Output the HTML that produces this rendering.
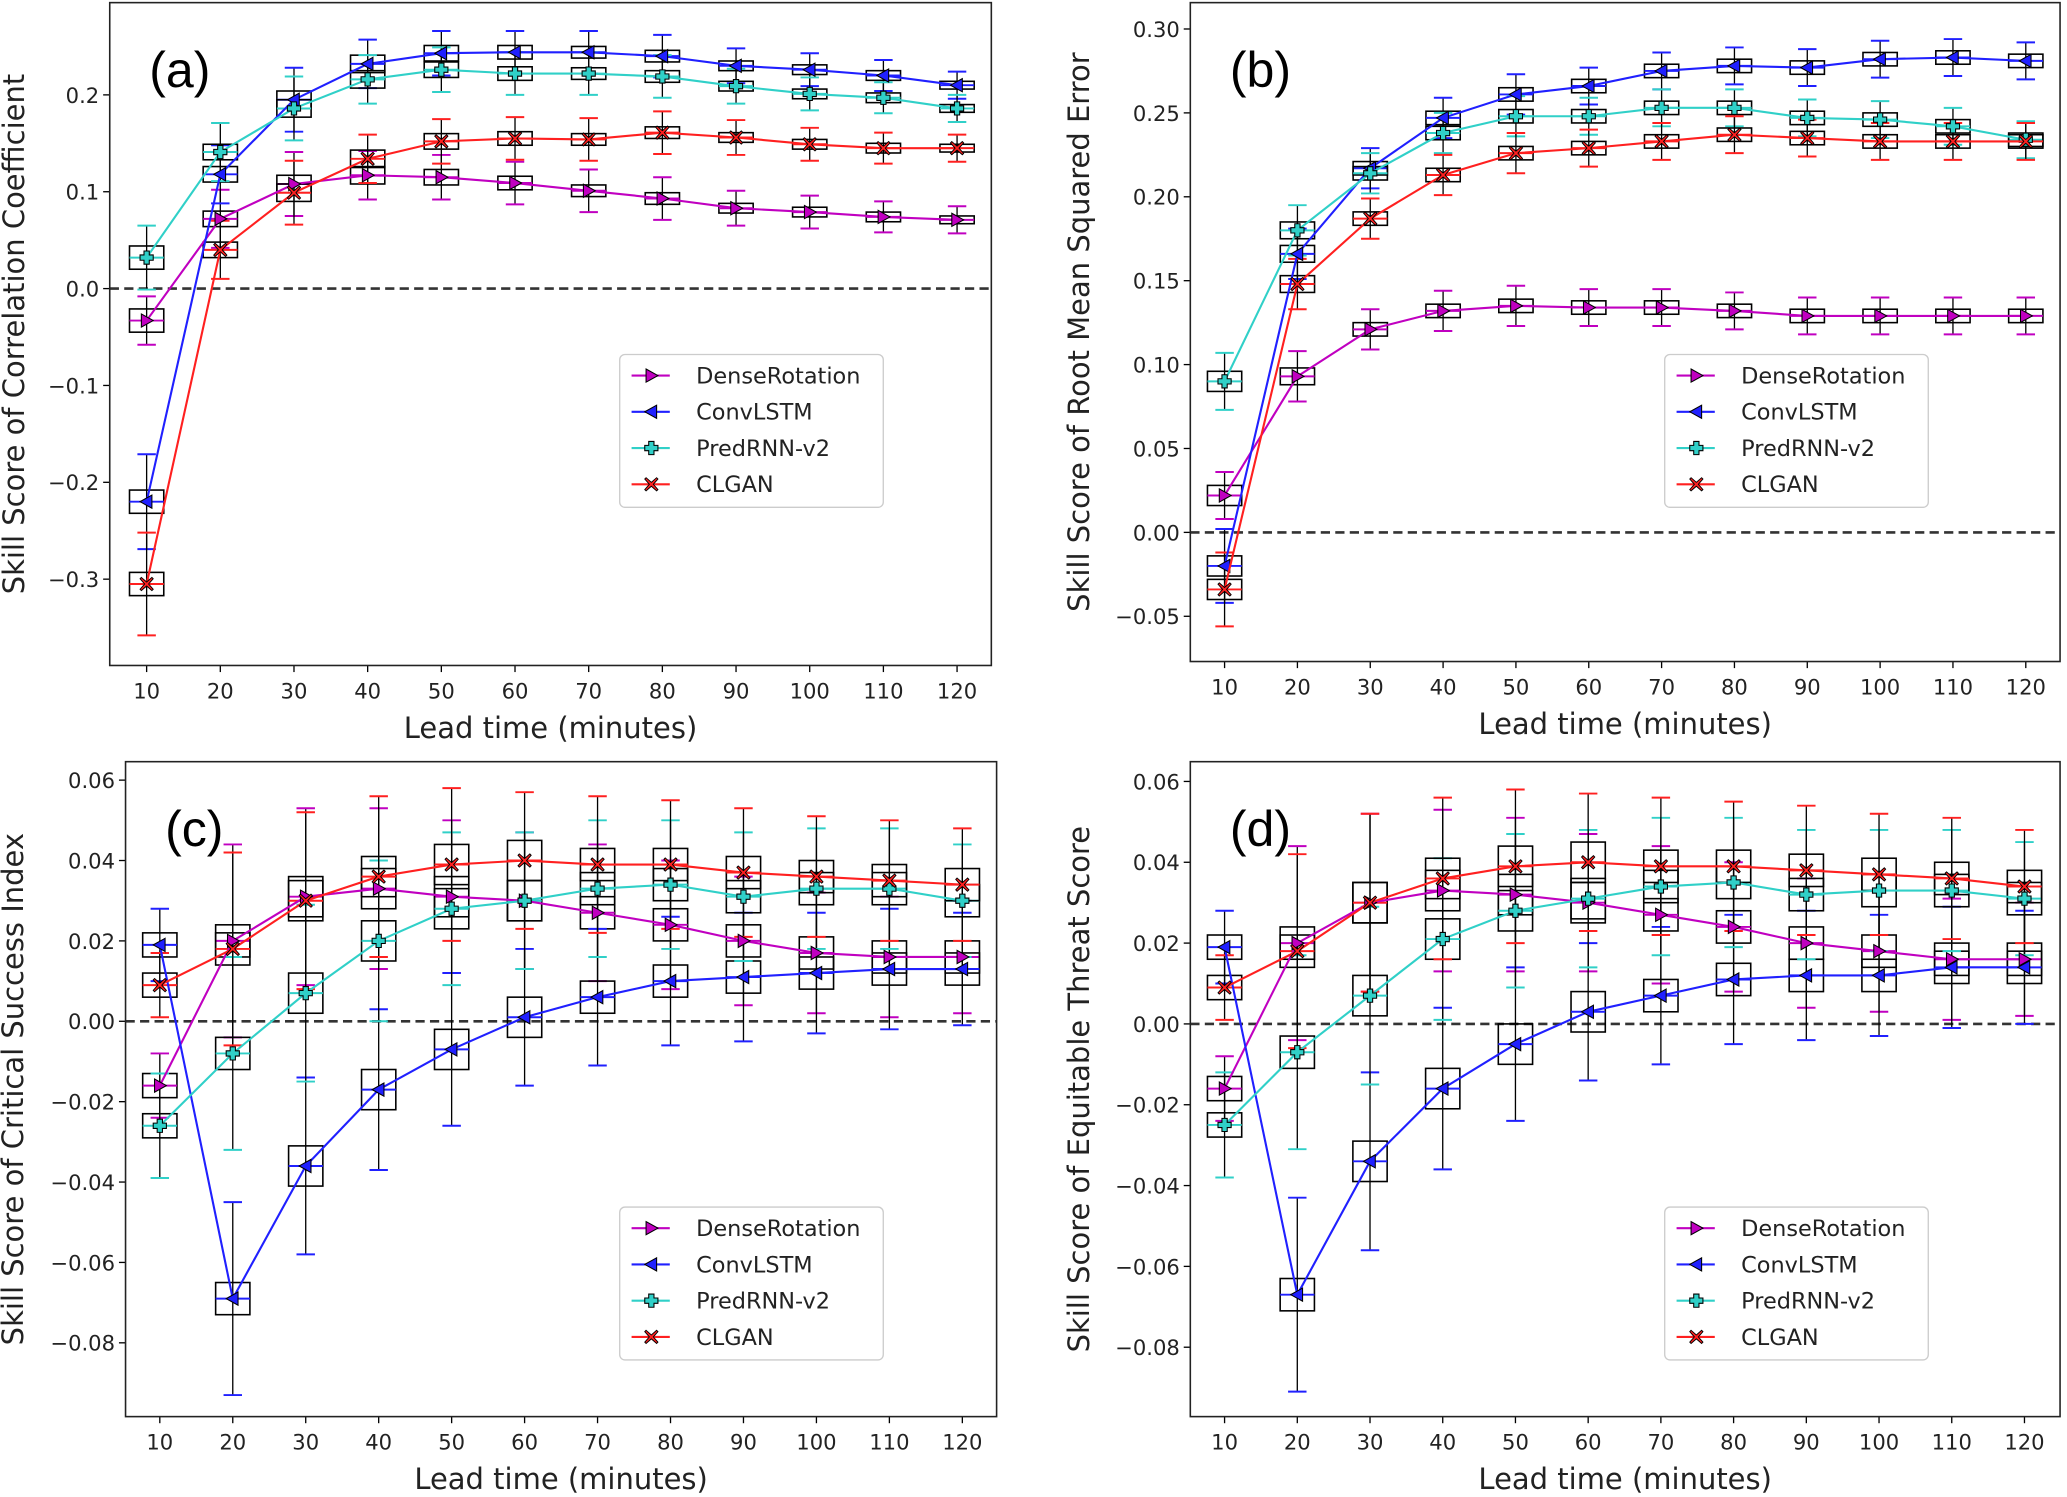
<!DOCTYPE html>
<html><head><meta charset="utf-8">
<style>
html,body{margin:0;padding:0;background:#fff;}
svg{display:block;font-family:"DejaVu Sans","Liberation Sans",sans-serif;}
</style></head>
<body>
<svg id="fig" width="2067" height="1497" viewBox="0 0 1568 1136" xmlns="http://www.w3.org/2000/svg"></svg>
<script>
const leadTimes=[10,20,30,40,50,60,70,80,90,100,110,120];
const seriesNames=["DenseRotation","ConvLSTM","PredRNN-v2","CLGAN"];
// Panel (a) correlation coefficient medians
const aDR=[-0.033,0.072,0.108,0.117,0.115,0.109,0.101,0.093,0.083,0.079,0.074,0.071];
const aCL=[-0.220,0.118,0.195,0.232,0.243,0.244,0.244,0.240,0.230,0.226,0.220,0.210];
const aPR=[0.032,0.141,0.186,0.216,0.226,0.222,0.222,0.219,0.209,0.201,0.197,0.186];
const aCG=[-0.305,0.040,0.099,0.134,0.152,0.155,0.154,0.161,0.156,0.149,0.145,0.145];
const aBox=[0.012,0.008,0.009,0.009,0.008,0.007,0.006,0.006,0.005,0.005,0.005,0.004];
const aWhisk=[0.05,0.03,0.033,0.025,0.023,0.022,0.022,0.022,0.018,0.017,0.016,0.014];
const aWhiskFirst=[0.025,0.049,0.033,0.053];
const aTicks=[-0.3,-0.2,-0.1,0.0,0.1,0.2];
const aTickLabels=["\u22120.3","\u22120.2","\u22120.1","0.0","0.1","0.2"];
// Panel (b) RMSE
const bDR=[0.022,0.093,0.121,0.132,0.135,0.134,0.134,0.132,0.129,0.129,0.129,0.129];
const bCL=[-0.020,0.166,0.217,0.247,0.261,0.266,0.275,0.278,0.277,0.282,0.283,0.281];
const bPR=[0.090,0.180,0.214,0.238,0.248,0.248,0.253,0.253,0.247,0.246,0.242,0.234];
const bCG=[-0.034,0.148,0.187,0.213,0.226,0.229,0.233,0.237,0.235,0.233,0.233,0.233];
const bBox=[0.006,0.005,0.004,0.004,0.004,0.004,0.004,0.004,0.004,0.004,0.004,0.004];
const bWhisk=[0.018,0.015,0.012,0.012,0.012,0.011,0.011,0.011,0.011,0.011,0.011,0.011];
const bWhiskFirst=[0.014,0.022,0.017,0.022];
const bTicks=[-0.05,0,0.05,0.10,0.15,0.20,0.25,0.30];
const bTickLabels=["\u22120.05","0.00","0.05","0.10","0.15","0.20","0.25","0.30"];
// Panel (c) CSI
const cDR=[-0.016,0.020,0.031,0.033,0.031,0.030,0.027,0.024,0.020,0.017,0.016,0.016];
const cCL=[0.019,-0.069,-0.036,-0.017,-0.007,0.001,0.006,0.010,0.011,0.012,0.013,0.013];
const cPR=[-0.026,-0.008,0.007,0.020,0.028,0.030,0.033,0.034,0.031,0.033,0.033,0.030];
const cCG=[0.009,0.018,0.030,0.036,0.039,0.040,0.039,0.039,0.037,0.036,0.035,0.034];
const cBox=[0.003,0.004,0.005,0.005,0.005,0.005,0.004,0.004,0.004,0.004,0.004,0.004];
const cWhisk=[0.011,0.024,0.022,0.02,0.019,0.017,0.017,0.016,0.016,0.015,0.015,0.014];
const cWhiskFirst=[0.008,0.009,0.013,0.008];
const cTicks=[-0.08,-0.06,-0.04,-0.02,0,0.02,0.04,0.06];
const cTickLabels=["\u22120.08","\u22120.06","\u22120.04","\u22120.02","0.00","0.02","0.04","0.06"];
// Panel (d) ETS
const dDR=[-0.016,0.020,0.030,0.033,0.032,0.030,0.027,0.024,0.020,0.018,0.016,0.016];
const dCL=[0.019,-0.067,-0.034,-0.016,-0.005,0.003,0.007,0.011,0.012,0.012,0.014,0.014];
const dPR=[-0.025,-0.007,0.007,0.021,0.028,0.031,0.034,0.035,0.032,0.033,0.033,0.031];
const dCG=[0.009,0.018,0.030,0.036,0.039,0.040,0.039,0.039,0.038,0.037,0.036,0.034];
const dBox=cBox;
const dWhisk=cWhisk;
const dWhiskFirst=cWhiskFirst;
const dTicks=cTicks;
const dTickLabels=cTickLabels;

const NS="http://www.w3.org/2000/svg";
const fig=document.getElementById('fig');
const colors=["#c000c0","#2020ff","#30d0c8","#ff2020"];
function mk(tag,attrs,parent,text){
  const e=document.createElementNS(NS,tag);
  for(const k in attrs)e.setAttribute(k,attrs[k]);
  if(text!==undefined)e.textContent=text;
  parent.appendChild(e);return e;
}
function marker(g,kind,x,y,col){
  let m;
  if(kind===0)m=mk('path',{d:`M${x-4},${y-5}L${x+5},${y}L${x-4},${y+5}Z`,fill:col,stroke:'#000','stroke-width':0.8},g);
  else if(kind===1)m=mk('path',{d:`M${x+4},${y-5}L${x-5},${y}L${x+4},${y+5}Z`,fill:col,stroke:'#000','stroke-width':0.8},g);
  else if(kind===2)m=mk('path',{d:`M${x-2},${y-5}h4v3h3v4h-3v3h-4v-3h-3v-4h3Z`,fill:col,stroke:'#000','stroke-width':0.8},g);
  else m=mk('path',{d:`M${x-4},${y-5}L${x},${y-1.5}L${x+4},${y-5}L${x+5},${y-4}L${x+1.5},${y}L${x+5},${y+4}L${x+4},${y+5}L${x},${y+1.5}L${x-4},${y+5}L${x-5},${y+4}L${x-1.5},${y}L${x-5},${y-4}Z`,fill:col,stroke:'#000','stroke-width':0.7},g);
  return m;
}
function panel(cfg){
  const g=mk('g',{},fig);
  
  
  const X=v=>cfg.x10+(v-10)/110*(cfg.x120-cfg.x10);
  const Y=v=>cfg.y0+(v-cfg.v0)/(cfg.v1-cfg.v0)*(cfg.y1-cfg.y0);
  cfg.ticks.forEach((t,i)=>{
    mk('line',{x1:cfg.L-5,x2:cfg.L,y1:Y(t),y2:Y(t),stroke:'#000','stroke-width':1},g);
    const tl=mk('text',{x:cfg.L-8,y:Y(t)+6,'text-anchor':'end','font-size':16,fill:'#222'},g,cfg.tickLabels[i]);
    
    
  });
  leadTimes.forEach(t=>{
    mk('line',{x1:X(t),x2:X(t),y1:cfg.B,y2:cfg.B+5,stroke:'#000','stroke-width':1},g);
    const tl=mk('text',{x:X(t),y:cfg.B+25,'text-anchor':'middle','font-size':16,fill:'#222'},g,String(t));
    
    
  });
  const z=mk('line',{x1:cfg.L,x2:cfg.R,y1:Y(0),y2:Y(0),stroke:'#333','stroke-width':2,'stroke-dasharray':'7,4'},g);
  
  
  cfg.series.forEach((s,si)=>{
    const sg=mk('g',{},g);
    
    
    s.forEach((v,i)=>{
      const x=X(leadTimes[i]);
      const w=i===0?cfg.whiskFirst[si]:cfg.whisk[i];
      const bx=cfg.box[i];
      const yb1=Y(v+bx),yb2=Y(v-bx),yw1=Y(v+w),yw2=Y(v-w);
      mk('line',{x1:x,x2:x,y1:yw1,y2:yw2,stroke:'#000','stroke-width':1},sg);
      mk('line',{x1:x-7,x2:x+7,y1:yw1,y2:yw1,stroke:colors[si],'stroke-width':1.5},sg);
      mk('line',{x1:x-7,x2:x+7,y1:yw2,y2:yw2,stroke:colors[si],'stroke-width':1.5},sg);
      const r=mk('rect',{x:x-13,y:Math.min(yb1,yb2),width:26,height:Math.abs(yb2-yb1),fill:'none',stroke:'#000','stroke-width':1.2},sg);
      
      
      mk('line',{x1:x-13,x2:x+13,y1:Y(v),y2:Y(v),stroke:colors[si],'stroke-width':1.5},sg);
    });
  });
  cfg.series.forEach((s,si)=>{
    const pts=s.map((v,i)=>X(leadTimes[i])+','+Y(v)).join(' ');
    const pl=mk('polyline',{points:pts,fill:'none',stroke:colors[si],'stroke-width':1.6},g);
    
    
    s.forEach((v,i)=>{
      const m=marker(g,si,X(leadTimes[i]),Y(v),colors[si]);
      
      
    });
  });
  const fr=mk('rect',{x:cfg.L,y:cfg.T,width:cfg.R-cfg.L,height:cfg.B-cfg.T,fill:'none',stroke:'#222','stroke-width':1.2},g);
  
  
  const pl=mk('text',{x:cfg.L+30,y:cfg.T+64,'font-size':38,fill:'#000','font-family':'"Liberation Sans",sans-serif'},g,'('+cfg.id+')');
  
  
  const xt=mk('text',{x:(cfg.L+cfg.R)/2,y:cfg.B+55,'text-anchor':'middle','font-size':22,fill:'#222'},g,'Lead time (minutes)');
  
  
  const ycx=cfg.ytx, ycy=(cfg.T+cfg.B)/2;
  const yt=mk('text',{x:ycx,y:ycy,'text-anchor':'middle','font-size':22,fill:'#222',transform:`rotate(-90 ${ycx} ${ycy})`},g,cfg.ytitle);
  
  
  const lg=mk('g',{},g);
  
  
  mk('rect',{x:cfg.lx,y:cfg.ly,width:200,height:116,rx:4,fill:'#fff',stroke:'#ccc','stroke-width':1},lg);
  seriesNames.forEach((n,si)=>{
    const yy=cfg.ly+16+si*27.5;
    const e=mk('g',{},lg);
    
    
    mk('line',{x1:cfg.lx+9,x2:cfg.lx+38,y1:yy,y2:yy,stroke:colors[si],'stroke-width':1.6},e);
    marker(e,si,cfg.lx+24,yy,colors[si]);
    mk('text',{x:cfg.lx+58,y:yy+6,'font-size':17,fill:'#222'},e,n);
  });
}
panel({id:'a',L:83,R:752,T:2,B:505,x10:111,x120:726,v0:0,y0:219,v1:0.2,y1:72,ticks:aTicks,tickLabels:aTickLabels,
  series:[aDR,aCL,aPR,aCG],box:aBox,whisk:aWhisk,whiskFirst:aWhiskFirst,ytx:18,ytitle:'Skill Score of Correlation Coefficient',lx:470,ly:269});
panel({id:'b',L:903,R:1563,T:2,B:502,x10:929,x120:1537,v0:0,y0:404,v1:0.3,y1:22,ticks:bTicks,tickLabels:bTickLabels,
  series:[bDR,bCL,bPR,bCG],box:bBox,whisk:bWhisk,whiskFirst:bWhiskFirst,ytx:826,ytitle:'Skill Score of Root Mean Squared Error',lx:1263,ly:269});
panel({id:'c',L:95,R:756,T:578,B:1075,x10:121,x120:730,v0:0,y0:775,v1:0.06,y1:592,ticks:cTicks,tickLabels:cTickLabels,
  series:[cDR,cCL,cPR,cCG],box:cBox,whisk:cWhisk,whiskFirst:cWhiskFirst,ytx:17,ytitle:'Skill Score of Critical Success Index',lx:470,ly:916});
panel({id:'d',L:903,R:1563,T:578,B:1075,x10:929,x120:1536,v0:0,y0:777,v1:0.06,y1:593,ticks:dTicks,tickLabels:dTickLabels,
  series:[dDR,dCL,dPR,dCG],box:dBox,whisk:dWhisk,whiskFirst:dWhiskFirst,ytx:826,ytitle:'Skill Score of Equitable Threat Score',lx:1263,ly:916});
</script>
</body></html>
